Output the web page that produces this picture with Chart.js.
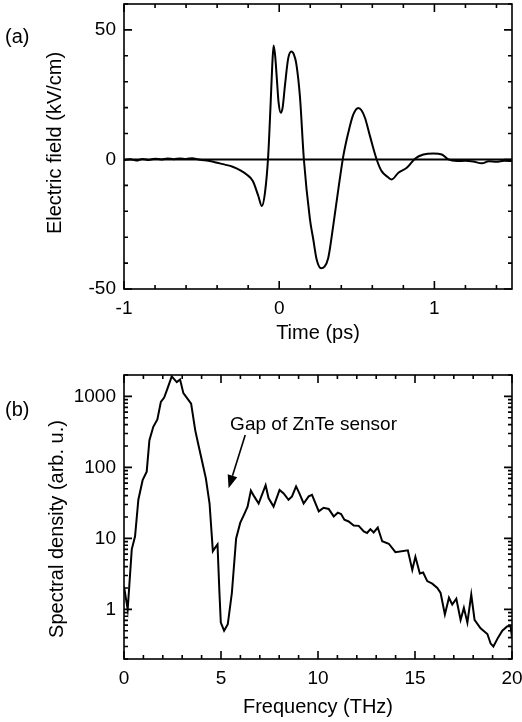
<!DOCTYPE html>
<html>
<head>
<meta charset="utf-8">
<script src="https://cdn.jsdelivr.net/npm/chart.js@4.4.1/dist/chart.umd.min.js"></script>
<style>
  html, body { margin: 0; padding: 0; background: #fff; }
  #wrap { position: relative; width: 522px; height: 722px; }
  canvas { position: absolute; left: 0; }
  #fieldCanvas { top: 0; }
  #spectrumCanvas { top: 360px; }
</style>
</head>
<body>
<div id="wrap">
  <canvas id="fieldCanvas" width="522" height="360"></canvas>
  <canvas id="spectrumCanvas" width="522" height="362"></canvas>
</div>
<script>
// (a) THz field transient
const timePs = [-1.00, -0.96, -0.92, -0.88, -0.84, -0.80, -0.76, -0.72, -0.68, -0.64,
  -0.60, -0.56, -0.52, -0.48, -0.44, -0.40, -0.35, -0.30, -0.25, -0.21,
  -0.17, -0.135, -0.112, -0.092, -0.071, -0.056, -0.045, -0.036, -0.026, -0.015,
  -0.004, 0.010, 0.022, 0.037, 0.058, 0.078, 0.095, 0.110, 0.134, 0.159,
  0.198, 0.220, 0.241, 0.270, 0.290, 0.316, 0.348, 0.390, 0.413, 0.445,
  0.477, 0.510, 0.530, 0.553, 0.585, 0.628, 0.660, 0.700, 0.725, 0.768,
  0.822, 0.875, 0.929, 0.994, 1.048, 1.090, 1.145, 1.200, 1.250, 1.306,
  1.350, 1.400, 1.450, 1.500];
const fieldKVcm = [-0.3, 0.1, -0.4, 0.2, -0.2, 0.3, 0.0, 0.4, 0.1, 0.4,
  0.2, 0.5, 0.0, -0.3, -0.7, -1.3, -2.0, -2.8, -4.2, -5.8,
  -8.3, -14, -18, -13, 1.3, 20.5, 36, 44, 40, 31,
  22, 18, 20, 28.5, 39, 41.7, 40.5, 37, 24, 0,
  -23, -31, -38.5, -42, -41.5, -38, -25.6, -7.7, 1.3, 10.3,
  17.3, 19.9, 19, 16, 9, 0, -4.5, -6.8, -7.7, -5.1,
  -3.2, 0.3, 1.9, 2.3, 1.9, 0, -0.6, -0.5, -0.8, -1.5,
  -0.7, -0.9, -0.5, -0.6];

// (b) spectral density
const freqTHz = [0, 0.19, 0.4, 0.57, 0.74, 0.96, 1.17, 1.31, 1.51, 1.72,
  1.9, 2.07, 2.24, 2.46, 2.63, 2.72, 2.89, 3.06, 3.27, 3.46,
  3.67, 3.84, 4.01, 4.22, 4.41, 4.58, 4.7, 4.82, 4.92, 4.99,
  5.16, 5.35, 5.56, 5.78, 5.99, 6.2, 6.37, 6.54, 6.71, 6.94,
  7.3, 7.45, 7.71, 8.02, 8.23, 8.48, 8.66, 8.87, 9.04, 9.26,
  9.52, 9.69, 10.04, 10.29, 10.55, 10.81, 11.02, 11.19, 11.36, 11.58,
  11.84, 12.1, 12.36, 12.53, 12.7, 12.87, 13.08, 13.31, 13.65, 13.99,
  14.63, 14.86, 15.02, 15.25, 15.42, 15.63, 15.89, 16.15, 16.32, 16.54,
  16.75, 16.92, 17.13, 17.35, 17.52, 17.7, 17.9, 18.07, 18.38, 18.73,
  18.9, 19.04, 19.28, 19.5, 19.76, 19.93, 20.0];
const spectralDensity = [2.1, 1.0, 7, 10.7, 35, 66, 87, 242, 373, 472,
  836, 960, 1285, 1910, 1690, 1590, 1730, 1110, 930, 790,
  335, 205, 127, 70, 31, 6.6, 7.4, 8.2, 1.7, 0.65,
  0.5, 0.62, 1.7, 10, 16.5, 22, 28, 47, 39, 31,
  56, 37, 28, 48, 43, 35, 39, 54, 43, 31,
  39, 41, 24, 27, 26, 20.4, 23, 22, 18.3, 17.3,
  15.2, 15, 12.5, 11.9, 13.5, 12.1, 14.2, 9.1, 8.4, 6.4,
  6.8, 3.6, 5.5, 3.2, 3.3, 2.5, 2.3, 2.0, 1.7, 0.85,
  1.46, 1.17, 1.41, 0.71, 1.05, 0.65, 1.62, 0.71, 0.54, 0.45,
  0.33, 0.3, 0.4, 0.5, 0.58, 0.58, 0.4];

// tick labels
const timeTickLabels = [-1, 0, 1];
const fieldTickLabels = [-50, 0, 50];
const freqTickLabels = [0, 5, 10, 15, 20];
const densityTickLabels = [1, 10, 100, 1000];

// annotation in panel (b), data coordinates
const gapText = 'Gap of ZnTe sensor';
const gapTextAt = [5.47, 393];
const gapArrow = [[6.25, 285], [5.39, 51]];

const FONT = "'Liberation Sans', Arial, Helvetica, sans-serif";
Chart.defaults.font.family = FONT;
Chart.defaults.color = '#000';

// tick mark lists (value, isMajor)
const timeTicks = [];
for (let k = 0; k <= 12; k++) {
  const v = Math.round((-1 + k * 0.2) * 10) / 10;
  timeTicks.push([v, Number.isInteger(v)]);
}
const fieldTicks = [];
for (let v = -50; v <= 60; v += 10) fieldTicks.push([v, v % 50 === 0]);
const freqTicks = [];
for (let v = 0; v <= 20; v++) freqTicks.push([v, v % 5 === 0]);
const densityTicks = [];
[0.1, 1, 10, 100, 1000].forEach(dec => {
  for (let m = 1; m <= 9; m++) {
    const v = m * dec;
    if (v >= 0.2 && v <= 2000) densityTicks.push([v, m === 1]);
  }
});

// boxed frame with inward ticks on all four sides
const frameTicks = {
  id: 'frameTicks',
  afterDatasetsDraw(chart, args, opts) {
    const { ctx, chartArea: a, scales } = chart;
    ctx.save();
    ctx.strokeStyle = '#000';
    ctx.lineWidth = 1.6;
    ctx.strokeRect(a.left, a.top, a.right - a.left, a.bottom - a.top);
    ctx.beginPath();
    opts.xTicks.forEach(([v, major]) => {
      const px = scales.x.getPixelForValue(v);
      const len = major ? 8 : 4;
      ctx.moveTo(px, a.bottom); ctx.lineTo(px, a.bottom - len);
      ctx.moveTo(px, a.top); ctx.lineTo(px, a.top + len);
    });
    opts.yTicks.forEach(([v, major]) => {
      const py = scales.y.getPixelForValue(v);
      const len = major ? 8 : 4;
      ctx.moveTo(a.left, py); ctx.lineTo(a.left + len, py);
      ctx.moveTo(a.right, py); ctx.lineTo(a.right - len, py);
    });
    ctx.stroke();
    ctx.restore();
  }
};

// axis titles and panel letter
const panelText = {
  id: 'panelText',
  afterDraw(chart, args, o) {
    const { ctx, chartArea: a } = chart;
    ctx.save();
    ctx.fillStyle = '#000';
    ctx.font = '20px ' + FONT;
    ctx.textBaseline = 'middle';
    ctx.textAlign = 'left';
    ctx.fillText(o.panel, 5, o.panelY);
    ctx.textAlign = 'center';
    ctx.fillText(o.xTitle, (a.left + a.right) / 2, o.xTitleY);
    ctx.translate(o.yTitleX, o.yTitleY);
    ctx.rotate(-Math.PI / 2);
    ctx.fillText(o.yTitle, 0, 0);
    ctx.restore();
  }
};

// "Gap of ZnTe sensor" arrow
const gapNote = {
  id: 'gapNote',
  afterDraw(chart) {
    const { ctx, scales: { x, y } } = chart;
    ctx.save();
    ctx.fillStyle = '#000';
    ctx.strokeStyle = '#000';
    ctx.font = '19px ' + FONT;
    ctx.textAlign = 'left';
    ctx.textBaseline = 'middle';
    ctx.fillText(gapText, x.getPixelForValue(gapTextAt[0]), y.getPixelForValue(gapTextAt[1]));
    const x0 = x.getPixelForValue(gapArrow[0][0]), y0 = y.getPixelForValue(gapArrow[0][1]);
    const x1 = x.getPixelForValue(gapArrow[1][0]), y1 = y.getPixelForValue(gapArrow[1][1]);
    const ang = Math.atan2(y1 - y0, x1 - x0);
    const head = 13, half = 5;
    const bx = x1 - head * Math.cos(ang), by = y1 - head * Math.sin(ang);
    ctx.lineWidth = 1.6;
    ctx.beginPath();
    ctx.moveTo(x0, y0);
    ctx.lineTo(bx, by);
    ctx.stroke();
    ctx.beginPath();
    ctx.moveTo(x1, y1);
    ctx.lineTo(bx + half * Math.sin(ang), by - half * Math.cos(ang));
    ctx.lineTo(bx - half * Math.sin(ang), by + half * Math.cos(ang));
    ctx.closePath();
    ctx.fill();
    ctx.restore();
  }
};

// scale options: fixed box size, no label overhang padding
function axis(labels, size, extra) {
  return Object.assign({
    grid: { display: false, drawTicks: false },
    border: { display: false },
    afterBuildTicks: s => { s.ticks = labels.map(v => ({ value: v })); },
    afterFit: s => {
      if (s.isHorizontal()) s.height = size; else s.width = size;
      s.paddingTop = 0; s.paddingBottom = 0;
      s.paddingLeft = 0; s.paddingRight = 0;
    },
    ticks: {
      font: { size: 19 },
      color: '#000',
      padding: 8,
      maxRotation: 0,
      autoSkip: false,
      callback: v => String(v)
    }
  }, extra);
}

// Panel (a)
new Chart(document.getElementById('fieldCanvas').getContext('2d'), {
  type: 'line',
  data: {
    datasets: [{
      data: timePs.map((t, i) => ({ x: t, y: fieldKVcm[i] })),
      borderColor: '#000',
      borderWidth: 2,
      pointRadius: 0,
      cubicInterpolationMode: 'monotone'
    }, {
      data: [{ x: -1, y: 0 }, { x: 1.5, y: 0 }],
      borderColor: '#000',
      borderWidth: 2,
      pointRadius: 0
    }]
  },
  options: {
    responsive: false,
    animation: false,
    layout: { padding: { top: 4, right: 10, bottom: 0, left: 0 } },
    plugins: {
      legend: { display: false },
      tooltip: { enabled: false },
      frameTicks: { xTicks: timeTicks, yTicks: fieldTicks },
      panelText: {
        panel: '(a)', panelY: 37,
        xTitle: 'Time (ps)', xTitleY: 333,
        yTitle: 'Electric field (kV/cm)', yTitleX: 55, yTitleY: 143
      }
    },
    scales: {
      x: axis(timeTickLabels, 71, { type: 'linear', min: -1, max: 1.5 }),
      y: axis(fieldTickLabels, 124, { type: 'linear', min: -50, max: 60 })
    }
  },
  plugins: [frameTicks, panelText]
});

// Panel (b)
new Chart(document.getElementById('spectrumCanvas').getContext('2d'), {
  type: 'line',
  data: {
    datasets: [{
      data: freqTHz.map((f, i) => ({ x: f, y: spectralDensity[i] })),
      borderColor: '#000',
      borderWidth: 2,
      pointRadius: 0,
      tension: 0
    }]
  },
  options: {
    responsive: false,
    animation: false,
    layout: { padding: { top: 15, right: 10, bottom: 0, left: 0 } },
    plugins: {
      legend: { display: false },
      tooltip: { enabled: false },
      frameTicks: { xTicks: freqTicks, yTicks: densityTicks },
      panelText: {
        panel: '(b)', panelY: 50,
        xTitle: 'Frequency (THz)', xTitleY: 347,
        yTitle: 'Spectral density (arb. u.)', yTitleX: 57, yTitleY: 169
      }
    },
    scales: {
      x: axis(freqTickLabels, 63, { type: 'linear', min: 0, max: 20 }),
      y: axis(densityTickLabels, 124, { type: 'logarithmic', min: 0.2, max: 2000 })
    }
  },
  plugins: [frameTicks, panelText, gapNote]
});
</script>
</body>
</html>
